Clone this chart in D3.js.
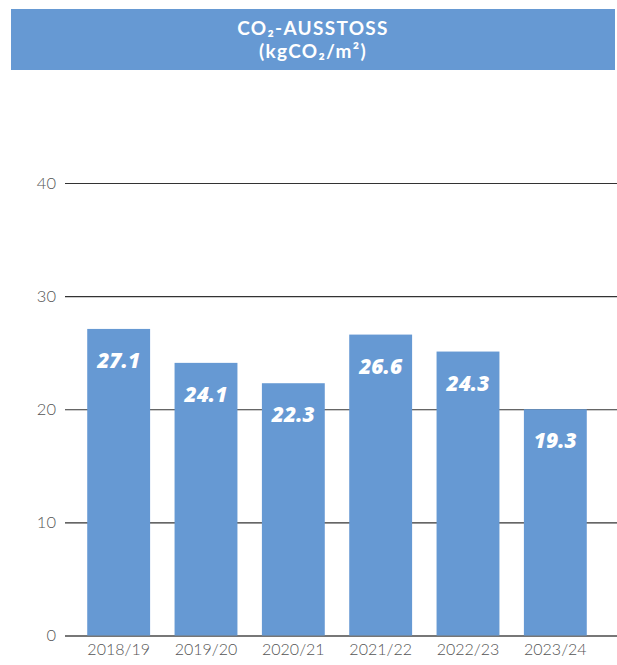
<!DOCTYPE html>
<html><head><meta charset="utf-8">
<script src="https://cdn.jsdelivr.net/npm/d3@7"></script>
<style>body{margin:0;background:#fff}svg{display:block}</style>
</head><body>
<script>
const categories = ["2018/19","2019/20","2020/21","2021/22","2022/23","2023/24"];
const barValues = [27.1, 24.1, 22.3, 26.6, 25.1, 20.0];
const valueLabels = ["27.1","24.1","22.3","26.6","24.3","19.3"];
const yTicks = [0,10,20,30,40];
const titleLines = ["CO₂-AUSSTOSS","(kgCO₂/m²)"];

const W = 617, H = 665, blue = "#6699d3";
const svg = d3.select("body").append("svg").attr("width", W).attr("height", H);

// title banner
svg.append("rect").attr("x",11).attr("y",9).attr("width",604).attr("height",61).attr("fill",blue);
[35, 58].forEach((ty, i) => {
  svg.append("text").attr("x",313).attr("y",ty).attr("text-anchor","middle")
    .attr("font-family","Lato, sans-serif").attr("font-weight",700).attr("font-size",19)
    .attr("letter-spacing",1.3).attr("fill","#fff").text(titleLines[i]);
});

const y = d3.scaleLinear().domain([0,40]).range([635.5,183]);
const x = d3.scaleBand().domain(categories).range([75,599]).paddingInner(0.28).paddingOuter(0.14);

// gridlines
const yAxis = d3.axisLeft(y).tickValues(yTicks).tickSize(-(617-65)).tickPadding(9);
const gy = svg.append("g").attr("transform","translate(65,0)").call(yAxis);
gy.select(".domain").remove();
gy.selectAll(".tick line").attr("stroke",d=> d===0 ? "#777" : "#333").attr("stroke-width",d=> d===0?2:1.2);
gy.selectAll(".tick text").attr("font-family","Lato, sans-serif").attr("font-weight",300).attr("font-size",16.5)
  .attr("fill","#555").attr("x",-9);

// bars
svg.selectAll("rect.bar").data(categories).enter().append("rect").attr("class","bar")
  .attr("x",d=>x(d)).attr("width",x.bandwidth())
  .attr("y",(d,i)=>y(barValues[i])).attr("height",(d,i)=>y(0)-y(barValues[i]))
  .attr("fill",blue);

// value labels
svg.selectAll("text.val").data(categories).enter().append("text").attr("class","val")
  .attr("x",d=>x(d)+x.bandwidth()/2).attr("y",(d,i)=>y(barValues[i])+39)
  .attr("text-anchor","middle").attr("font-family","Open Sans, sans-serif")
  .attr("font-weight",800).attr("font-style","italic").attr("font-size",21)
  .attr("fill","#fff").text((d,i)=>valueLabels[i]);

// x axis labels
const xAxis = d3.axisBottom(x).tickSize(0).tickPadding(0);
const gx = svg.append("g").attr("transform","translate(0,650)").call(xAxis);
gx.select(".domain").remove();
gx.selectAll(".tick text").attr("font-family","Lato, sans-serif").attr("font-weight",300).attr("font-size",16)
  .attr("fill","#555").attr("dy","0.32em");
</script>
</body></html>
